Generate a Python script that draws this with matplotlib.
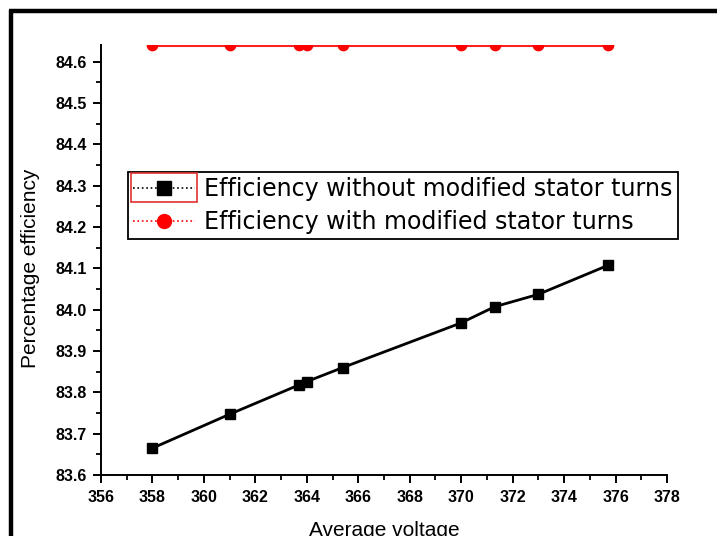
import numpy as np
import matplotlib.pyplot as plt
from matplotlib.lines import Line2D
from matplotlib.patches import Rectangle
from matplotlib.ticker import MultipleLocator

# 读图估计的数据
voltage = [358.0, 361.0, 363.7, 364.0, 365.4, 370.0, 371.3, 373.0, 375.7]
eff_without = [83.665, 83.747, 83.818, 83.826, 83.860, 83.968, 84.007, 84.037, 84.107]
eff_with = [84.64, 84.64, 84.64, 84.64, 84.64, 84.64, 84.64, 84.64, 84.64]
labels = ['Efficiency without modified stator turns',
          'Efficiency with modified stator turns']

plt.rcParams['font.family'] = ['Liberation Sans', 'DejaVu Sans']

fig = plt.figure(figsize=(7.17, 5.36), dpi=100)
ax = fig.add_axes([0.1409, 0.1138, 0.7894, 0.8022])

ax.plot(voltage, eff_without, color='black', lw=2, marker='s', ms=7.5, zorder=3)
# 红线贴在上边界，标记被裁掉一半
ax.plot(voltage, eff_with, color='#ff2020', lw=2.2, zorder=3)
sc = ax.scatter(voltage, eff_with, color='red', s=55, marker='o', zorder=3)
sc.set_clip_path(ax.patch)

ax.set_xlim(356, 378)
ax.set_ylim(83.6, 84.64)
ax.xaxis.set_major_locator(MultipleLocator(2))
ax.xaxis.set_minor_locator(MultipleLocator(1))
ax.yaxis.set_major_locator(MultipleLocator(0.1))
ax.yaxis.set_minor_locator(MultipleLocator(0.05))
ax.yaxis.set_major_formatter(plt.FormatStrFormatter('%.1f'))

for s in ['top', 'right']:
    ax.spines[s].set_visible(False)
for s in ['left', 'bottom']:
    ax.spines[s].set_linewidth(1.4)
ax.tick_params(which='major', direction='out', length=6, width=1.4,
               labelsize=11.5, pad=4.5)
ax.tick_params(which='minor', direction='out', length=3.5, width=1.3)
for t in ax.get_xticklabels() + ax.get_yticklabels():
    t.set_fontweight('bold')

ax.set_xlabel('Average voltage', fontsize=15)
ax.xaxis.set_label_coords(0.5, -0.107)
ax.set_ylabel('Percentage efficiency', fontsize=15)
ax.yaxis.set_label_coords(-0.108, 0.481)

# 图例（虚线样式的句柄）
handles = [Line2D([], [], color='black', ls=':', lw=1.2, marker='s', ms=9.5),
           Line2D([], [], color='red', ls=':', lw=1.2, marker='o', ms=10)]
leg = ax.legend(handles, labels, loc='upper left', bbox_to_anchor=(0.0477, 0.7047),
                prop={'family': 'DejaVu Sans', 'size': 17.1}, frameon=True,
                fancybox=False, edgecolor='black', framealpha=1,
                borderpad=0.22, labelspacing=0.38, handlelength=2.6,
                handletextpad=0.4, borderaxespad=0)
leg.get_frame().set_linewidth(1.3)

# 第一个句柄外的红框
fig.canvas.draw()
bb = leg.legend_handles[0].get_window_extent(fig.canvas.get_renderer())
W, H = fig.bbox.width, fig.bbox.height
cx = (bb.x0 + bb.x1) / 2
cy = (bb.y0 + bb.y1) / 2
fig.add_artist(Rectangle(((cx - 33) / W, (cy - 14.5) / H), 66 / W, 29 / H,
                         transform=fig.transFigure, fill=False, edgecolor='#e03030', lw=1.2))

# 外框
fig.add_artist(Line2D([0.0153, 0.0153], [0, 0.981], color='black', lw=3.2,
                      solid_capstyle='butt', transform=fig.transFigure))
fig.add_artist(Line2D([0.0125, 1.0], [0.979, 0.979], color='black', lw=3.2,
                      solid_capstyle='butt', transform=fig.transFigure))

fig.savefig('out.png', dpi=100)
